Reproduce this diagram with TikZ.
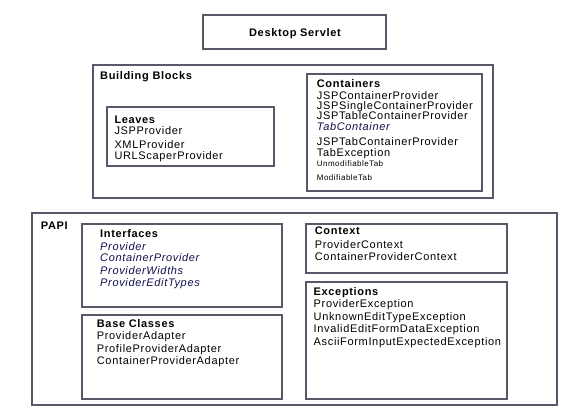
\documentclass[tikz,border=0pt]{standalone}
\usepackage{fontspec}
\setmainfont{Liberation Sans}[LetterSpace=6]
\definecolor{framegray}{RGB}{88,88,104}
\definecolor{ifacenavy}{RGB}{16,16,76}
\newcommand{\capstrut}{\rule{0pt}{9pt}}
\newcommand{\iface}[1]{\textcolor{ifacenavy}{\textit{#1}}}
\tikzset{
    blockframe/.style={draw=framegray,line width=1.5pt},
    heading/.style={inner sep=0,anchor=base west,font=\bfseries\headfontsize},
    itemlist/.style={inner sep=0,anchor=north west,align=left,font=\itemfontsize}
}

\begin{document}
\begin{tikzpicture}[x=1pt,y=-1pt]
    \providecommand{\headfontsize}{\fontsize{11pt}{12.5pt}\selectfont}
    \providecommand{\itemfontsize}{\fontsize{11pt}{12.5pt}\selectfont}
    \providecommand{\tinyfontsize}{\fontsize{8pt}{10pt}\selectfont}
    \useasboundingbox (0,0) rectangle (566,411);
    \draw[blockframe] (203,15) rectangle (386,49);
    \node[inner sep=0,anchor=base,font=\bfseries\headfontsize] (servlet) at (295,36.5) {Desktop Servlet};
    \draw[blockframe] (93,65) rectangle (493,198);
    \node[heading] (blocks) at (100,80) {Building Blocks};
    \draw[blockframe] (107,107) rectangle (274,166);
    \node[itemlist] (leaves) at (114.3,114) {\capstrut\textbf{Leaves}\\[-1.5pt] JSPProvider\\[1.5pt] XMLProvider\\[-1.5pt] URLScaperProvider};
    \draw[blockframe] (307,74) rectangle (482,191);
    \node[itemlist] (containers) at (316.7,78.5) {\capstrut\textbf{Containers}\\[-0.8pt] JSPContainerProvider\\[-2.5pt] JSPSingleContainerProvider\\[-2.5pt] JSPTableContainerProvider\\[-1.5pt] \iface{TabContainer}\\[2.9pt] JSPTabContainerProvider\\[-1.9pt] TabException\\[-2.5pt] {\tinyfontsize UnmodifiableTab}\\[1.5pt] {\tinyfontsize ModifiableTab}};
    % \draw[blockframe] (28,212) rectangle (555,405);
    \draw[blockframe] (32,213) rectangle (557,405);
    \node[heading] (papi) at (40.7,229.3) {PAPI};
    \draw[blockframe] (82,224) rectangle (282,307);
    \node[itemlist] (interfaces) at (100,228.7) {\capstrut\textbf{Interfaces}\\ \iface{Provider}\\[-0.9pt] \iface{ContainerProvider}\\ \iface{ProviderWidths}\\ \iface{ProviderEditTypes}};
    \draw[blockframe] (82,315) rectangle (282,399);
    \node[itemlist] (baseclasses) at (96.7,318) {\capstrut\textbf{Base Classes}\\ ProviderAdapter\\ ProfileProviderAdapter\\ ContainerProviderAdapter};
    \draw[blockframe] (306,224) rectangle (507,273);
    \node[itemlist] (context) at (314.7,225) {\capstrut\textbf{Context}\\[1.5pt] ProviderContext\\ ContainerProviderContext};
    \draw[blockframe] (306,282) rectangle (507,399);
    \node[itemlist] (exceptions) at (313.5,286) {\capstrut\textbf{Exceptions}\\ ProviderException\\ UnknownEditTypeException\\ InvalidEditFormDataException\\ AsciiFormInputExpectedException};
\end{tikzpicture}
\end{document}
